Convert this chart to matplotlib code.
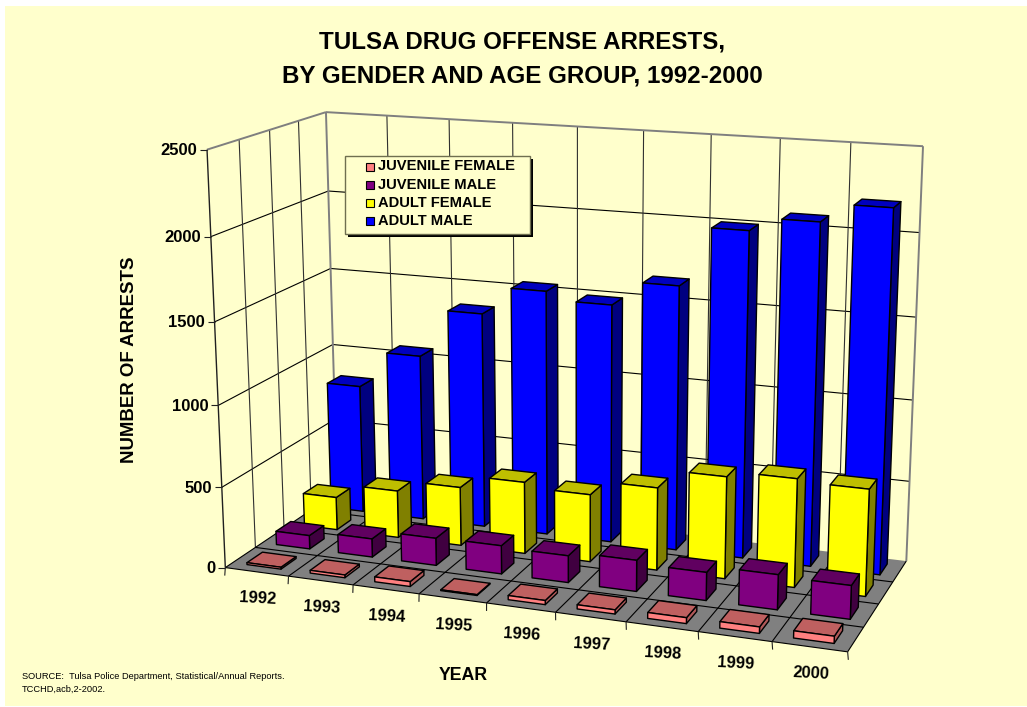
import numpy as np
import matplotlib
matplotlib.use('Agg')
import matplotlib.pyplot as plt
from matplotlib.patches import Polygon, Rectangle

plt.rcParams['font.family'] = ['Liberation Sans', 'DejaVu Sans']

years = ['1992', '1993', '1994', '1995', '1996', '1997', '1998', '1999', '2000']
juvenile_female = [12, 17, 30, 5, 25, 25, 35, 38, 42]
juvenile_male = [85, 115, 170, 175, 165, 190, 170, 210, 200]
adult_female = [210, 300, 370, 450, 420, 510, 625, 660, 645]
adult_male = [825, 1060, 1365, 1540, 1490, 1640, 2000, 2080, 2190]

series_names = ['JUVENILE FEMALE', 'JUVENILE MALE', 'ADULT FEMALE', 'ADULT MALE']
series_values = [juvenile_female, juvenile_male, adult_female, adult_male]
# front, top, side
series_colors = [('#FF8080', '#BF6060', '#B05858'),
                 ('#800080', '#600060', '#400040'),
                 ('#FFFF00', '#BFBF00', '#808000'),
                 ('#0000FF', '#0000BF', '#000080')]
y_ticks = [0, 500, 1000, 1500, 2000, 2500]

BG = '#FFFFCC'
EDGE = '#7F7F7F'

nx, ny, zmax = len(years), len(series_names), y_ticks[-1]

# box corners (data) -> where they sit on the picture, gives the camera
world = [(0, 0, 0), (nx, 0, 0), (nx, ny, 0), (0, ny, 0),
         (0, 0, zmax), (0, ny, zmax), (nx, ny, zmax)]
pixel = [(225, 568), (848, 651), (906, 562), (337.5, 492),
         (207, 150), (326, 112), (923, 146)]


def fit_camera(world, pixel):
    rows = []
    for (x, y, z), (u, v) in zip(world, pixel):
        z = z / 1000.
        rows.append([x, y, z, 1, 0, 0, 0, 0, -u*x, -u*y, -u*z, -u])
        rows.append([0, 0, 0, 0, x, y, z, 1, -v*x, -v*y, -v*z, -v])
    _, _, vt = np.linalg.svd(np.array(rows, dtype=float))
    return vt[-1].reshape(3, 4)


cam = fit_camera(world, pixel)


def proj(x, y, z):
    p = cam @ np.array([x, y, z / 1000., 1.])
    return p[0] / p[2], p[1] / p[2]


fig = plt.figure(figsize=(10.27, 7.07), dpi=100, facecolor='white')
ax = fig.add_axes([0, 0, 1, 1])
ax.set_xlim(0, 1027)
ax.set_ylim(707, 0)
ax.axis('off')
ax.add_patch(Rectangle((5, 6), 1022, 700, fc=BG, ec='none', zorder=0))


def line(p0, p1, color='black', lw=0.8):
    ax.plot([p0[0], p1[0]], [p0[1], p1[1]], color=color, lw=lw,
            solid_capstyle='butt', zorder=2)


def face(corners, color, lw=1.0):
    pts = [proj(*c) for c in corners]
    ax.add_patch(Polygon(pts, closed=True, fc=color, ec='black', lw=lw,
                         joinstyle='round', zorder=3))


# floor
ax.add_patch(Polygon([proj(0, 0, 0), proj(nx, 0, 0), proj(nx, ny, 0), proj(0, ny, 0)],
                     closed=True, fc='#808080', ec='none', zorder=1))

# wall grid
for v in y_ticks[1:-1]:
    line(proj(0, 0, v), proj(0, ny, v))
    line(proj(0, ny, v), proj(nx, ny, v))
for i in range(1, nx):
    line(proj(i, ny, 0), proj(i, ny, zmax), color='#303030')
for j in range(1, ny):
    line(proj(0, j, 0), proj(0, j, zmax), color='#303030')

# floor grid
for i in range(1, nx):
    line(proj(i, 0, 0), proj(i, ny, 0))
for j in range(1, ny):
    line(proj(0, j, 0), proj(nx, j, 0))
line(proj(0, 0, 0), proj(nx, 0, 0))
line(proj(nx, 0, 0), proj(nx, ny, 0))
line(proj(0, 0, 0), proj(0, ny, 0))

# wall borders
line(proj(0, 0, zmax), proj(0, ny, zmax), color=EDGE, lw=1.4)
line(proj(0, ny, zmax), proj(nx, ny, zmax), color=EDGE, lw=1.4)
line(proj(0, ny, 0), proj(0, ny, zmax), color=EDGE, lw=1.4)
line(proj(nx, ny, 0), proj(nx, ny, zmax), color=EDGE, lw=1.4)
line(proj(0, 0, 0), proj(0, 0, zmax), color='#202020', lw=1.0)

# ticks
for v in y_ticks:
    x0, y0 = proj(0, 0, v)
    line((x0 - 7, y0), (x0, y0), color='#202020')
    ax.text(x0 - 10, y0 + 1, str(v), ha='right', va='center', fontsize=12, fontweight='bold')
for i in range(nx + 1):
    x0, y0 = proj(i, 0, 0)
    line((x0, y0), (x0 + (x0 - 500) * 0.002, y0 + 8), color='#202020')
for i, name in enumerate(years):
    x0, y0 = proj(i + 0.5, 0, 0)
    ax.text(x0 + 1, y0 + 27, name, ha='center', va='center', rotation=-3,
            rotation_mode='anchor', fontsize=12, fontweight='bold')

# bars, back row first
bar_w, bar_d = 0.54, 0.52
for j in range(ny - 1, -1, -1):
    front, top, side = series_colors[j]
    y0, y1 = j + 0.5 - bar_d / 2, j + 0.5 + bar_d / 2
    for i, v in enumerate(series_values[j]):
        x0, x1 = i + 0.5 - bar_w / 2, i + 0.5 + bar_w / 2
        face([(x1, y0, 0), (x1, y1, 0), (x1, y1, v), (x1, y0, v)], side)
        face([(x0, y0, v), (x1, y0, v), (x1, y1, v), (x0, y1, v)], top)
        face([(x0, y0, 0), (x1, y0, 0), (x1, y0, v), (x0, y0, v)], front)

# legend
ax.add_patch(Rectangle((348, 159), 185, 78, fc='black', ec='none', zorder=5))
ax.add_patch(Rectangle((345, 156), 185, 78, fc=BG, ec='#6F6F50', lw=1.0, zorder=6))
for k, name in enumerate(series_names):
    ym = 166.5 + k * 18.2
    ax.add_patch(Rectangle((366, ym - 4), 8, 8, fc=series_colors[k][0], ec='black', lw=0.8, zorder=7))
    ax.text(378, ym, name, ha='left', va='center', fontsize=10.6, fontweight='bold', zorder=7)

# titles
ax.text(522, 42, 'TULSA DRUG OFFENSE ARRESTS,', ha='center', va='center', fontsize=17.4, fontweight='bold')
ax.text(522, 76, 'BY GENDER AND AGE GROUP, 1992-2000', ha='center', va='center', fontsize=17.4, fontweight='bold')
ax.text(129, 360, 'NUMBER OF ARRESTS', rotation=90, ha='center', va='center', fontsize=13.4, fontweight='bold')
ax.text(463, 675, 'YEAR', ha='center', va='center', fontsize=12.8, fontweight='bold')
ax.text(22, 676.5, 'SOURCE:  Tulsa Police Department, Statistical/Annual Reports.', ha='left', va='center', fontsize=6.7)
ax.text(22, 689.5, 'TCCHD,acb,2-2002.', ha='left', va='center', fontsize=6.7)

fig.savefig('out.png', dpi=100, facecolor='white')
